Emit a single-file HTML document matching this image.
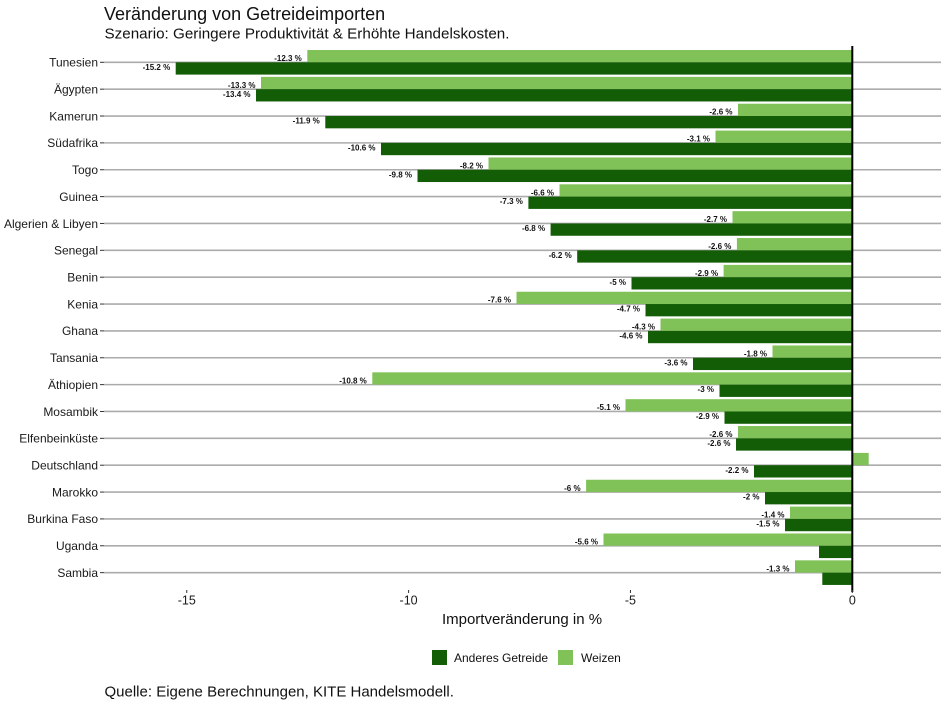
<!DOCTYPE html>
<html><head><meta charset="utf-8"><style>
html,body{margin:0;padding:0;background:#fff;}
svg{display:block;font-family:"Liberation Sans",Arial,sans-serif;}
.yl{font-size:12px;fill:#1a1a1a;text-anchor:end;}
.lb{font-size:8px;font-weight:bold;fill:#111;text-anchor:end;}
.xl{font-size:12.5px;fill:#1a1a1a;text-anchor:middle;}
.g{stroke:#ababab;stroke-width:1.6;}
.w{fill:#80c257;}
.a{fill:#135d06;}
</style></head><body>
<svg width="945" height="705" viewBox="0 0 945 705" xmlns="http://www.w3.org/2000/svg">
<rect width="945" height="705" fill="#fff"/>
<text x="104" y="20" font-size="18" fill="#111">Veränderung von Getreideimporten</text>
<text x="104.5" y="38.5" font-size="15" fill="#111" textLength="405" lengthAdjust="spacingAndGlyphs">Szenario: Geringere Produktivität &amp; Erhöhte Handelskosten.</text>

<!-- gridlines -->
<g class="g">
<line x1="104" x2="941" y1="62.3" y2="62.3"/>
<line x1="104" x2="941" y1="89.16" y2="89.16"/>
<line x1="104" x2="941" y1="116.02" y2="116.02"/>
<line x1="104" x2="941" y1="142.88" y2="142.88"/>
<line x1="104" x2="941" y1="169.74" y2="169.74"/>
<line x1="104" x2="941" y1="196.6" y2="196.6"/>
<line x1="104" x2="941" y1="223.46" y2="223.46"/>
<line x1="104" x2="941" y1="250.32" y2="250.32"/>
<line x1="104" x2="941" y1="277.18" y2="277.18"/>
<line x1="104" x2="941" y1="304.04" y2="304.04"/>
<line x1="104" x2="941" y1="330.9" y2="330.9"/>
<line x1="104" x2="941" y1="357.76" y2="357.76"/>
<line x1="104" x2="941" y1="384.62" y2="384.62"/>
<line x1="104" x2="941" y1="411.48" y2="411.48"/>
<line x1="104" x2="941" y1="438.34" y2="438.34"/>
<line x1="104" x2="941" y1="465.2" y2="465.2"/>
<line x1="104" x2="941" y1="492.06" y2="492.06"/>
<line x1="104" x2="941" y1="518.92" y2="518.92"/>
<line x1="104" x2="941" y1="545.78" y2="545.78"/>
<line x1="104" x2="941" y1="572.64" y2="572.64"/>
</g>
<!-- y ticks -->
<g stroke="#333" stroke-width="1">
<line x1="100" x2="104" y1="62.3" y2="62.3"/>
<line x1="100" x2="104" y1="89.16" y2="89.16"/>
<line x1="100" x2="104" y1="116.02" y2="116.02"/>
<line x1="100" x2="104" y1="142.88" y2="142.88"/>
<line x1="100" x2="104" y1="169.74" y2="169.74"/>
<line x1="100" x2="104" y1="196.6" y2="196.6"/>
<line x1="100" x2="104" y1="223.46" y2="223.46"/>
<line x1="100" x2="104" y1="250.32" y2="250.32"/>
<line x1="100" x2="104" y1="277.18" y2="277.18"/>
<line x1="100" x2="104" y1="304.04" y2="304.04"/>
<line x1="100" x2="104" y1="330.9" y2="330.9"/>
<line x1="100" x2="104" y1="357.76" y2="357.76"/>
<line x1="100" x2="104" y1="384.62" y2="384.62"/>
<line x1="100" x2="104" y1="411.48" y2="411.48"/>
<line x1="100" x2="104" y1="438.34" y2="438.34"/>
<line x1="100" x2="104" y1="465.2" y2="465.2"/>
<line x1="100" x2="104" y1="492.06" y2="492.06"/>
<line x1="100" x2="104" y1="518.92" y2="518.92"/>
<line x1="100" x2="104" y1="545.78" y2="545.78"/>
<line x1="100" x2="104" y1="572.64" y2="572.64"/>
</g>
<!-- y labels -->
<text class="yl" x="98" y="66.6">Tunesien</text>
<text class="yl" x="98" y="93.46">Ägypten</text>
<text class="yl" x="98" y="120.32">Kamerun</text>
<text class="yl" x="98" y="147.18">Südafrika</text>
<text class="yl" x="98" y="174.04">Togo</text>
<text class="yl" x="98" y="200.9">Guinea</text>
<text class="yl" x="98" y="227.76">Algerien &amp; Libyen</text>
<text class="yl" x="98" y="254.62">Senegal</text>
<text class="yl" x="98" y="281.48">Benin</text>
<text class="yl" x="98" y="308.34">Kenia</text>
<text class="yl" x="98" y="335.2">Ghana</text>
<text class="yl" x="98" y="362.06">Tansania</text>
<text class="yl" x="98" y="388.92">Äthiopien</text>
<text class="yl" x="98" y="415.78">Mosambik</text>
<text class="yl" x="98" y="442.64">Elfenbeinküste</text>
<text class="yl" x="98" y="469.5">Deutschland</text>
<text class="yl" x="98" y="496.36">Marokko</text>
<text class="yl" x="98" y="523.22">Burkina Faso</text>
<text class="yl" x="98" y="550.08">Uganda</text>
<text class="yl" x="98" y="576.94">Sambia</text>

<!-- bars -->
<rect class="w" x="307.3" y="50" width="545" height="12.3"/>
<rect class="a" x="175.7" y="62.3" width="676.6" height="12.3"/>
<rect class="w" x="261" y="76.86" width="591.3" height="12.3"/>
<rect class="a" x="256" y="89.16" width="596.3" height="12.3"/>
<rect class="w" x="738" y="103.72" width="114.3" height="12.3"/>
<rect class="a" x="325.3" y="116.02" width="527" height="12.3"/>
<rect class="w" x="715.5" y="130.58" width="136.8" height="12.3"/>
<rect class="a" x="381" y="142.88" width="471.3" height="12.3"/>
<rect class="w" x="488.5" y="157.44" width="363.8" height="12.3"/>
<rect class="a" x="417.5" y="169.74" width="434.8" height="12.3"/>
<rect class="w" x="559.5" y="184.3" width="292.8" height="12.3"/>
<rect class="a" x="528.4" y="196.6" width="323.9" height="12.3"/>
<rect class="w" x="732.5" y="211.16" width="119.8" height="12.3"/>
<rect class="a" x="550.6" y="223.46" width="301.7" height="12.3"/>
<rect class="w" x="736.9" y="238.02" width="115.4" height="12.3"/>
<rect class="a" x="577.2" y="250.32" width="275.1" height="12.3"/>
<rect class="w" x="723.6" y="264.88" width="128.7" height="12.3"/>
<rect class="a" x="631.5" y="277.18" width="220.8" height="12.3"/>
<rect class="w" x="516.5" y="291.74" width="335.8" height="12.3"/>
<rect class="a" x="645.5" y="304.04" width="206.8" height="12.3"/>
<rect class="w" x="660.5" y="318.6" width="191.8" height="12.3"/>
<rect class="a" x="648" y="330.9" width="204.3" height="12.3"/>
<rect class="w" x="772.5" y="345.46" width="79.8" height="12.3"/>
<rect class="a" x="693" y="357.76" width="159.3" height="12.3"/>
<rect class="w" x="372.3" y="372.32" width="480" height="12.3"/>
<rect class="a" x="719.5" y="384.62" width="132.8" height="12.3"/>
<rect class="w" x="625.5" y="399.18" width="226.8" height="12.3"/>
<rect class="a" x="724.5" y="411.48" width="127.8" height="12.3"/>
<rect class="w" x="738" y="426.04" width="114.3" height="12.3"/>
<rect class="a" x="736" y="438.34" width="116.3" height="12.3"/>
<rect class="w" x="852.3" y="452.9" width="16.4" height="12.3"/>
<rect class="a" x="754" y="465.2" width="98.3" height="12.3"/>
<rect class="w" x="586.1" y="479.76" width="266.2" height="12.3"/>
<rect class="a" x="765" y="492.06" width="87.3" height="12.3"/>
<rect class="w" x="790" y="506.62" width="62.3" height="12.3"/>
<rect class="a" x="785" y="518.92" width="67.3" height="12.3"/>
<rect class="w" x="603.5" y="533.48" width="248.8" height="12.3"/>
<rect class="a" x="819" y="545.78" width="33.3" height="12.3"/>
<rect class="w" x="795" y="560.34" width="57.3" height="12.3"/>
<rect class="a" x="822.3" y="572.64" width="30" height="12.3"/>

<!-- value labels -->
<text class="lb" x="301.8" y="61">-12.3 %</text>
<text class="lb" x="170.2" y="69.9">-15.2 %</text>
<text class="lb" x="255.5" y="87.86">-13.3 %</text>
<text class="lb" x="250.5" y="96.76">-13.4 %</text>
<text class="lb" x="732.5" y="114.72">-2.6 %</text>
<text class="lb" x="319.8" y="123.62">-11.9 %</text>
<text class="lb" x="710" y="141.58">-3.1 %</text>
<text class="lb" x="375.5" y="150.48">-10.6 %</text>
<text class="lb" x="483" y="168.44">-8.2 %</text>
<text class="lb" x="412" y="177.34">-9.8 %</text>
<text class="lb" x="554" y="195.3">-6.6 %</text>
<text class="lb" x="522.9" y="204.2">-7.3 %</text>
<text class="lb" x="727" y="222.16">-2.7 %</text>
<text class="lb" x="545.1" y="231.06">-6.8 %</text>
<text class="lb" x="731.4" y="249.02">-2.6 %</text>
<text class="lb" x="571.7" y="257.92">-6.2 %</text>
<text class="lb" x="718.1" y="275.88">-2.9 %</text>
<text class="lb" x="626" y="284.78">-5 %</text>
<text class="lb" x="511" y="302.74">-7.6 %</text>
<text class="lb" x="640" y="311.64">-4.7 %</text>
<text class="lb" x="655" y="329.6">-4.3 %</text>
<text class="lb" x="642.5" y="338.5">-4.6 %</text>
<text class="lb" x="767" y="356.46">-1.8 %</text>
<text class="lb" x="687.5" y="365.36">-3.6 %</text>
<text class="lb" x="366.8" y="383.32">-10.8 %</text>
<text class="lb" x="714" y="392.22">-3 %</text>
<text class="lb" x="620" y="410.18">-5.1 %</text>
<text class="lb" x="719" y="419.08">-2.9 %</text>
<text class="lb" x="732.5" y="437.04">-2.6 %</text>
<text class="lb" x="730.5" y="445.94">-2.6 %</text>
<text class="lb" x="748.5" y="472.8">-2.2 %</text>
<text class="lb" x="580.6" y="490.76">-6 %</text>
<text class="lb" x="759.5" y="499.66">-2 %</text>
<text class="lb" x="784.5" y="517.62">-1.4 %</text>
<text class="lb" x="779.5" y="526.52">-1.5 %</text>
<text class="lb" x="598" y="544.48">-5.6 %</text>
<text class="lb" x="789.5" y="571.34">-1.3 %</text>

<!-- zero line -->
<line x1="852.3" x2="852.3" y1="46" y2="592" stroke="#000" stroke-width="2"/>

<!-- x ticks -->
<g stroke="#333" stroke-width="1">
<line x1="186.75" x2="186.75" y1="590" y2="593"/>
<line x1="408.6" x2="408.6" y1="590" y2="593"/>
<line x1="630.45" x2="630.45" y1="590" y2="593"/>
<line x1="852.3" x2="852.3" y1="590" y2="593"/>
</g>
<text class="xl" x="186.75" y="604.5">-15</text>
<text class="xl" x="408.6" y="604.5">-10</text>
<text class="xl" x="630.45" y="604.5">-5</text>
<text class="xl" x="852.3" y="604.5">0</text>

<text x="522" y="624" font-size="15" fill="#111" text-anchor="middle">Importveränderung in %</text>

<!-- legend -->
<rect x="432" y="650" width="15" height="15" fill="#135d06"/>
<text x="454" y="662" font-size="12" fill="#111">Anderes Getreide</text>
<rect x="558" y="650" width="15" height="15" fill="#80c257"/>
<text x="581" y="662" font-size="12" fill="#111">Weizen</text>

<text x="104.5" y="696.5" font-size="15" fill="#111">Quelle: Eigene Berechnungen, KITE Handelsmodell.</text>
</svg>
</body></html>
